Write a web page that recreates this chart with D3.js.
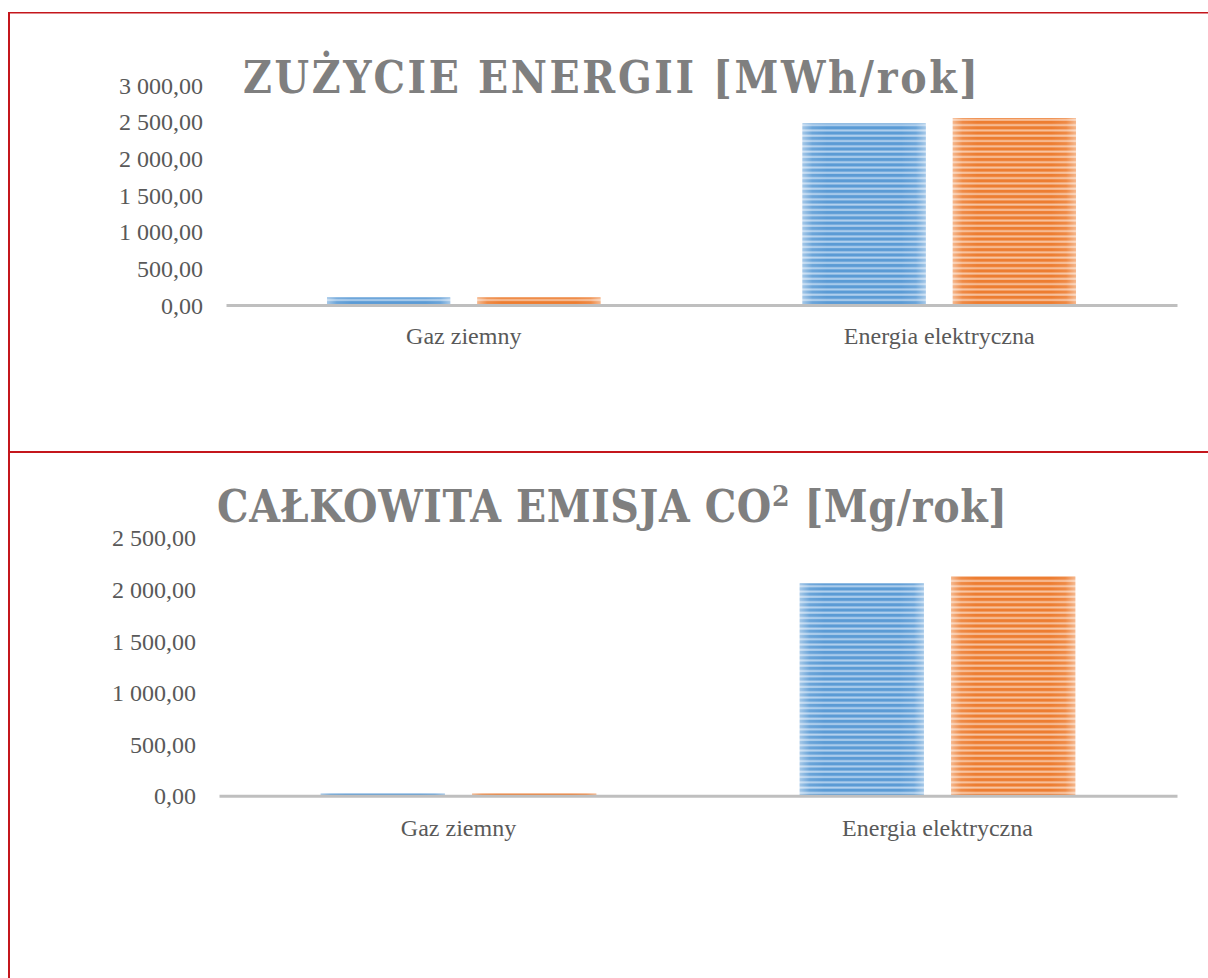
<!DOCTYPE html>
<html>
<head>
<meta charset="utf-8">
<script src="https://cdn.jsdelivr.net/npm/d3@7"></script>
<style>
  html, body { margin: 0; padding: 0; background: #ffffff; }
  svg { display: block; }
</style>
</head>
<body>
<svg id="chart" width="1208" height="978"></svg>
<script>
// ---------- data ----------
const categories = ["Gaz ziemny", "Energia elektryczna"];
const seriesNames = ["Seria 1", "Seria 2"];

const energyTitle = "ZUŻYCIE ENERGII [MWh/rok]";
const energySeries1 = [105, 2478];
const energySeries2 = [105, 2550];
const energyTicks = [0, 500, 1000, 1500, 2000, 2500, 3000];

const emissionTitleParts = ["CAŁKOWITA EMISJA CO", "2", " [Mg/rok]"];
const emissionSeries1 = [25, 2058];
const emissionSeries2 = [25, 2126];
const emissionTicks = [0, 500, 1000, 1500, 2000, 2500];

// ---------- setup ----------
const svg = d3.select("#chart");
const defs = svg.append("defs");
const seriesColors = [
  { dark: "#5b9bd5", light: "#b3d1ee" },
  { dark: "#ed7d31", light: "#f8c3a0" }
];
seriesColors.forEach((c, i) => {
  const p = defs.append("pattern")
    .attr("id", "stripe" + i)
    .attr("patternUnits", "userSpaceOnUse")
    .attr("width", 8).attr("height", 5.3);
  p.append("rect").attr("width", 8).attr("height", 5.3).attr("fill", c.dark);
  p.append("rect").attr("y", 2.2).attr("width", 8).attr("height", 2.0).attr("fill", c.light);
});
const edge = defs.append("linearGradient").attr("id", "edgeGlow")
  .attr("x1", "0").attr("x2", "1").attr("y1", "0").attr("y2", "0");
[[0, 0.45], [0.08, 0.1], [0.2, 0], [0.8, 0], [0.92, 0.1], [1, 0.45]].forEach(([o, a]) => {
  edge.append("stop").attr("offset", o).attr("stop-color", "#ffffff").attr("stop-opacity", a);
});

const fmt = v => {
  const s = d3.format(",.2f")(v);
  return s.replace(/,/g, " ").replace(".", ",");
};

const titleFont = "'DejaVu Serif Condensed', 'DejaVu Serif', serif";
const labelFont = "'Liberation Serif', 'Times New Roman', serif";

// ---------- frame ----------
const frameColor = "#c4161c";
svg.append("line").attr("x1", 8).attr("x2", 1208).attr("y1", 12.8).attr("y2", 12.8)
  .attr("stroke", frameColor).attr("stroke-width", 1.6);
svg.append("line").attr("x1", 9).attr("x2", 9).attr("y1", 12).attr("y2", 978)
  .attr("stroke", frameColor).attr("stroke-width", 2);
svg.append("line").attr("x1", 9).attr("x2", 1208).attr("y1", 452).attr("y2", 452)
  .attr("stroke", frameColor).attr("stroke-width", 2);

// ---------- chart drawer ----------
function drawChart(cfg) {
  const g = svg.append("g");
  const y = d3.scaleLinear().domain([0, cfg.max]).range([cfg.y0, cfg.yTop]);
  const x = d3.scaleBand().domain(categories).range([cfg.xLeft, cfg.xRight]).padding(0);
  const xs = d3.scaleBand().domain(seriesNames).range([0, x.bandwidth()])
    .paddingInner(0.18).paddingOuter(0.672);

  // title
  const t = g.append("text")
    .attr("x", cfg.titleX0).attr("y", cfg.titleY)
    .attr("font-family", titleFont)
    .attr("font-stretch", "condensed")
    .attr("font-weight", "bold").attr("font-size", 44)
    .attr("fill", "#7f7f7f");
  cfg.titleParts.forEach((part, i) => {
    const ts = t.append("tspan").text(part);
    if (cfg.supIndex === i) {
      ts.attr("font-size", 28).attr("dy", -16);
    } else if (cfg.supIndex === i - 1) {
      ts.attr("dy", 16);
    }
  });
  const natural = t.node().getComputedTextLength();
  const nChars = cfg.titleParts.join("").length;
  const ls = (cfg.titleX1 - cfg.titleX0 - natural) / (nChars - 1);
  t.attr("letter-spacing", ls);

  // y axis labels
  const yAxis = d3.axisLeft(y).tickValues(cfg.ticks).tickFormat(fmt).tickSize(0).tickPadding(0);
  const ya = g.append("g").attr("transform", `translate(${cfg.labelRight},0)`).call(yAxis);
  ya.select(".domain").remove();
  ya.selectAll("text")
    .attr("font-family", labelFont)
    .attr("font-size", 24).attr("fill", "#595959").attr("dy", "0.34em");

  // bars
  const data = categories.map((c, i) => ({ cat: c, vals: [cfg.s1[i], cfg.s2[i]] }));
  const grp = g.selectAll("g.cat").data(data).join("g")
    .attr("transform", d => `translate(${x(d.cat)},0)`);
  grp.selectAll("rect.bar").data(d => d.vals.map((v, i) => ({ v, i }))).join("rect")
    .attr("class", "bar")
    .attr("x", d => xs(seriesNames[d.i]))
    .attr("width", xs.bandwidth())
    .attr("y", d => y(d.v))
    .attr("height", d => y(0) - y(d.v))
    .attr("fill", d => `url(#stripe${d.i})`);
  grp.selectAll("rect.glow").data(d => d.vals.map((v, i) => ({ v, i }))).join("rect")
    .attr("class", "glow")
    .attr("x", d => xs(seriesNames[d.i]))
    .attr("width", xs.bandwidth())
    .attr("y", d => y(d.v))
    .attr("height", d => y(0) - y(d.v))
    .attr("fill", "url(#edgeGlow)");

  // x axis line + labels
  const xAxis = d3.axisBottom(x).tickSize(0).tickPadding(0);
  const xa = g.append("g").attr("transform", `translate(0,${y(0)})`).call(xAxis);
  xa.select(".domain").attr("stroke", "#bfbfbf").attr("stroke-width", 3);
  xa.selectAll("text")
    .attr("font-family", labelFont)
    .attr("font-size", 24).attr("fill", "#595959")
    .attr("dy", null).attr("y", cfg.catLabelBaseline - y(0));
}

drawChart({
  titleParts: [energyTitle], supIndex: -1,
  titleX0: 243, titleX1: 978, titleY: 77,
  max: 3000, ticks: energyTicks, y0: 305, yTop: 85,
  xLeft: 226, xRight: 1177, labelRight: 203,
  s1: energySeries1, s2: energySeries2, catLabelBaseline: 344
});

drawChart({
  titleParts: emissionTitleParts, supIndex: 1,
  titleX0: 217, titleX1: 1007, titleY: 522,
  max: 2500, ticks: emissionTicks, y0: 795.7, yTop: 537.7,
  xLeft: 219, xRight: 1177, labelRight: 196,
  s1: emissionSeries1, s2: emissionSeries2, catLabelBaseline: 836
});
</script>
</body>
</html>
